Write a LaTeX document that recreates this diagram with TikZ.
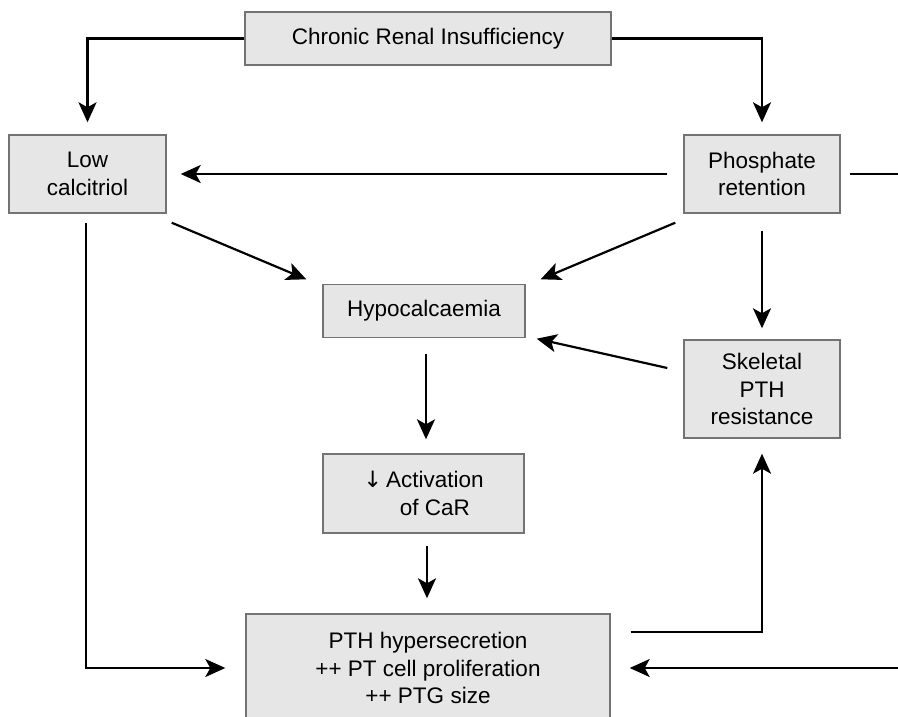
\documentclass[tikz,border=0pt]{standalone}
\usepackage{fontspec}
\setmainfont{Liberation Sans}
\newfontfamily\arrowfont{DejaVu Sans}
\usetikzlibrary{arrows.meta,calc}
\definecolor{boxfill}{RGB}{230,230,230}
\definecolor{boxline}{RGB}{115,115,115}
\tikzset{
  box/.style={draw=boxline, line width=1.4pt, fill=boxfill, inner sep=0pt,
    align=center, font=\fontsize{22.5}{27.5}\selectfont},
  arr/.style={draw=black, line width=2.2pt,
    -{Stealth[length=20pt,width=18pt,inset=5pt]}},
  plain/.style={draw=black, line width=2.2pt}
}
\begin{document}
\begin{tikzpicture}[x=1pt,y=-1pt]
\useasboundingbox (0,0) rectangle (898,716);
\clip (0,0) rectangle (898,716);
\fill[white] (0,0) rectangle (898,716);

\node[box, minimum width=366pt, minimum height=53pt] (cri) at (428,38.5) {Chronic Renal Insufficiency};
\node[box, minimum width=157pt, minimum height=78pt] (low) at (87.5,174) {Low\\calcitriol};
\node[box, minimum width=156pt, minimum height=78pt] (phos) at (762,174) {Phosphate\\retention};
\node[box, minimum width=202pt, minimum height=53pt] (hypo) at (424,311) {Hypocalcaemia};
\node[box, minimum width=156pt, minimum height=98pt] (skel) at (762,389) {Skeletal\\PTH\\resistance};
\node[box, minimum width=201pt, minimum height=79pt] (act) at (423.5,493.5) {{\arrowfont ↓}\,Activation\\\phantom{{\arrowfont ↓}\,}of CaR};
\node[box, minimum width=364pt, minimum height=108pt] (pth) at (428,668) {PTH hypersecretion\\++ PT cell proliferation\\++ PTG size};

\coordinate (farright) at (920,174);

% from chronic renal insufficiency
\draw[arr, shorten >=12pt] (cri.west) -| (low.north);
\draw[arr, shorten >=12pt] (cri.east) -| (phos.north);

% phosphate retention
\draw[arr, shorten <=16pt, shorten >=14pt] (phos.west) -- (low.east);
\draw[arr, shorten <=9pt, shorten >=19pt] (phos.east) -- (farright) |- (pth.east);
\draw[arr] ([shift={(-8,9)}]phos.south west) -- ([shift={(15,-4.5)}]hypo.north east);
\draw[arr, shorten <=17pt, shorten >=11pt] (phos.south) -- (skel.north);

% low calcitriol
\draw[arr] ([shift={(5,9)}]low.south east) -- ([shift={(-16,-4.5)}]hypo.north west);
\draw[arr, shorten <=9pt, shorten >=20pt] ([xshift=-1.5pt]low.south) |- (pth.west);

% skeletal resistance
\draw[arr] ([shift={(-16,-21)}]skel.west) -- ([shift={(11,0.5)}]hypo.south east);

% main chain
\draw[arr, shorten <=15.5pt, shorten >=14pt] ([xshift=2pt]hypo.south) -- ([xshift=2pt]hypo.south |- act.north);
\draw[arr, shorten <=12pt, shorten >=15pt] ([xshift=3.5pt]act.south) -- ([xshift=3.5pt]act.south |- pth.north);

% PTH to skeletal
\draw[arr, shorten >=15pt] ([shift={(20,-36)}]pth.east) -| (skel.south);
\end{tikzpicture}
\end{document}
